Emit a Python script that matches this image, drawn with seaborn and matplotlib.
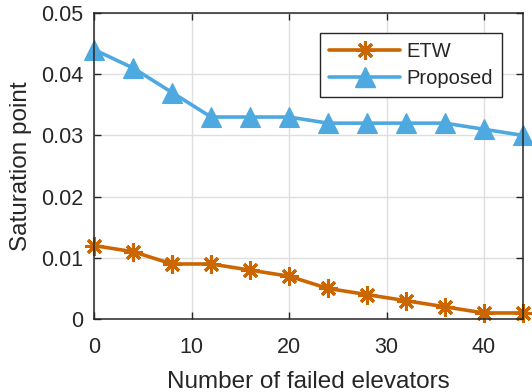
import numpy as np
import pandas as pd
import matplotlib
matplotlib.use("Agg")
import matplotlib.pyplot as plt
import seaborn as sns
from matplotlib.lines import Line2D

failed = [0, 4, 8, 12, 16, 20, 24, 28, 32, 36, 40, 44]
etw = [0.012, 0.011, 0.009, 0.009, 0.008, 0.007, 0.005, 0.004, 0.003, 0.002, 0.001, 0.001]
proposed = [0.044, 0.041, 0.037, 0.033, 0.033, 0.033, 0.032, 0.032, 0.032, 0.032, 0.031, 0.030]
series = ["ETW", "Proposed"]
colors = ["#CC6600", "#4DA9DF"]
markers = ["*", "^"]

df = pd.DataFrame({
    "failed": failed * 2,
    "value": etw + proposed,
    "method": [series[0]] * len(failed) + [series[1]] * len(failed),
})

sns.set_theme(style="whitegrid")
plt.rcParams["font.family"] = ["Liberation Sans", "DejaVu Sans"]

fig = plt.figure(figsize=(5.32, 3.92), dpi=100)
ax = fig.add_axes([0.177, 0.186, 0.806, 0.781])

sns.lineplot(data=df, x="failed", y="value", hue="method", style="method",
             palette=dict(zip(series, colors)), markers=dict(zip(series, markers)),
             dashes=False, linewidth=2.6, markersize=13,
             ax=ax, legend=False)

asterisk = (8, 2, 0)
for line, c in zip(ax.lines, colors):
    line.set_markeredgecolor(c)
    line.set_markerfacecolor(c)
ax.lines[0].set_marker(asterisk)
ax.lines[0].set_markersize(13)
ax.lines[0].set_markeredgewidth(2.2)
ax.lines[1].set_markersize(14)
ax.lines[1].set_markeredgewidth(0.8)
for ln in ax.lines:
    ln.set_clip_on(False)

ax.set_xlim(0, 44)
ax.set_ylim(0, 0.05)
ax.set_xticks([0, 10, 20, 30, 40])
ax.set_yticks([0, 0.01, 0.02, 0.03, 0.04, 0.05])
ax.set_yticklabels(["0", "0.01", "0.02", "0.03", "0.04", "0.05"])
ax.tick_params(axis="both", labelsize=15.5, colors="#262626", direction="in",
               length=5, width=1, top=True, right=True, bottom=True, left=True)
ax.tick_params(axis="y", pad=8)
ax.tick_params(axis="x", pad=13)
ax.set_xlabel("Number of failed elevators", fontsize=17.5, color="#262626", labelpad=9)
ax.set_ylabel("Saturation point", fontsize=17.5, color="#262626", labelpad=6)
ax.grid(True, color="#DFDFDF", linewidth=1)
ax.set_facecolor("white")
for s in ax.spines.values():
    s.set_visible(True)
    s.set_color("#262626")
    s.set_linewidth(1.1)

handles = [
    Line2D([], [], color=colors[0], lw=2.6, marker=asterisk, markersize=13, markeredgewidth=2.2),
    Line2D([], [], color=colors[1], lw=2.6, marker="^", markersize=14),
]
leg = ax.legend(handles, series, loc="upper right", bbox_to_anchor=(0.95, 0.935),
                fontsize=14.5, frameon=True, fancybox=False, handlelength=3.5,
                borderpad=0.45, labelspacing=0.4, handletextpad=0.3, borderaxespad=0)
leg.get_frame().set_edgecolor("#262626")
leg.get_frame().set_linewidth(1)
leg.get_frame().set_alpha(1)
leg.set_zorder(5)

fig.savefig("out.png", dpi=100)
